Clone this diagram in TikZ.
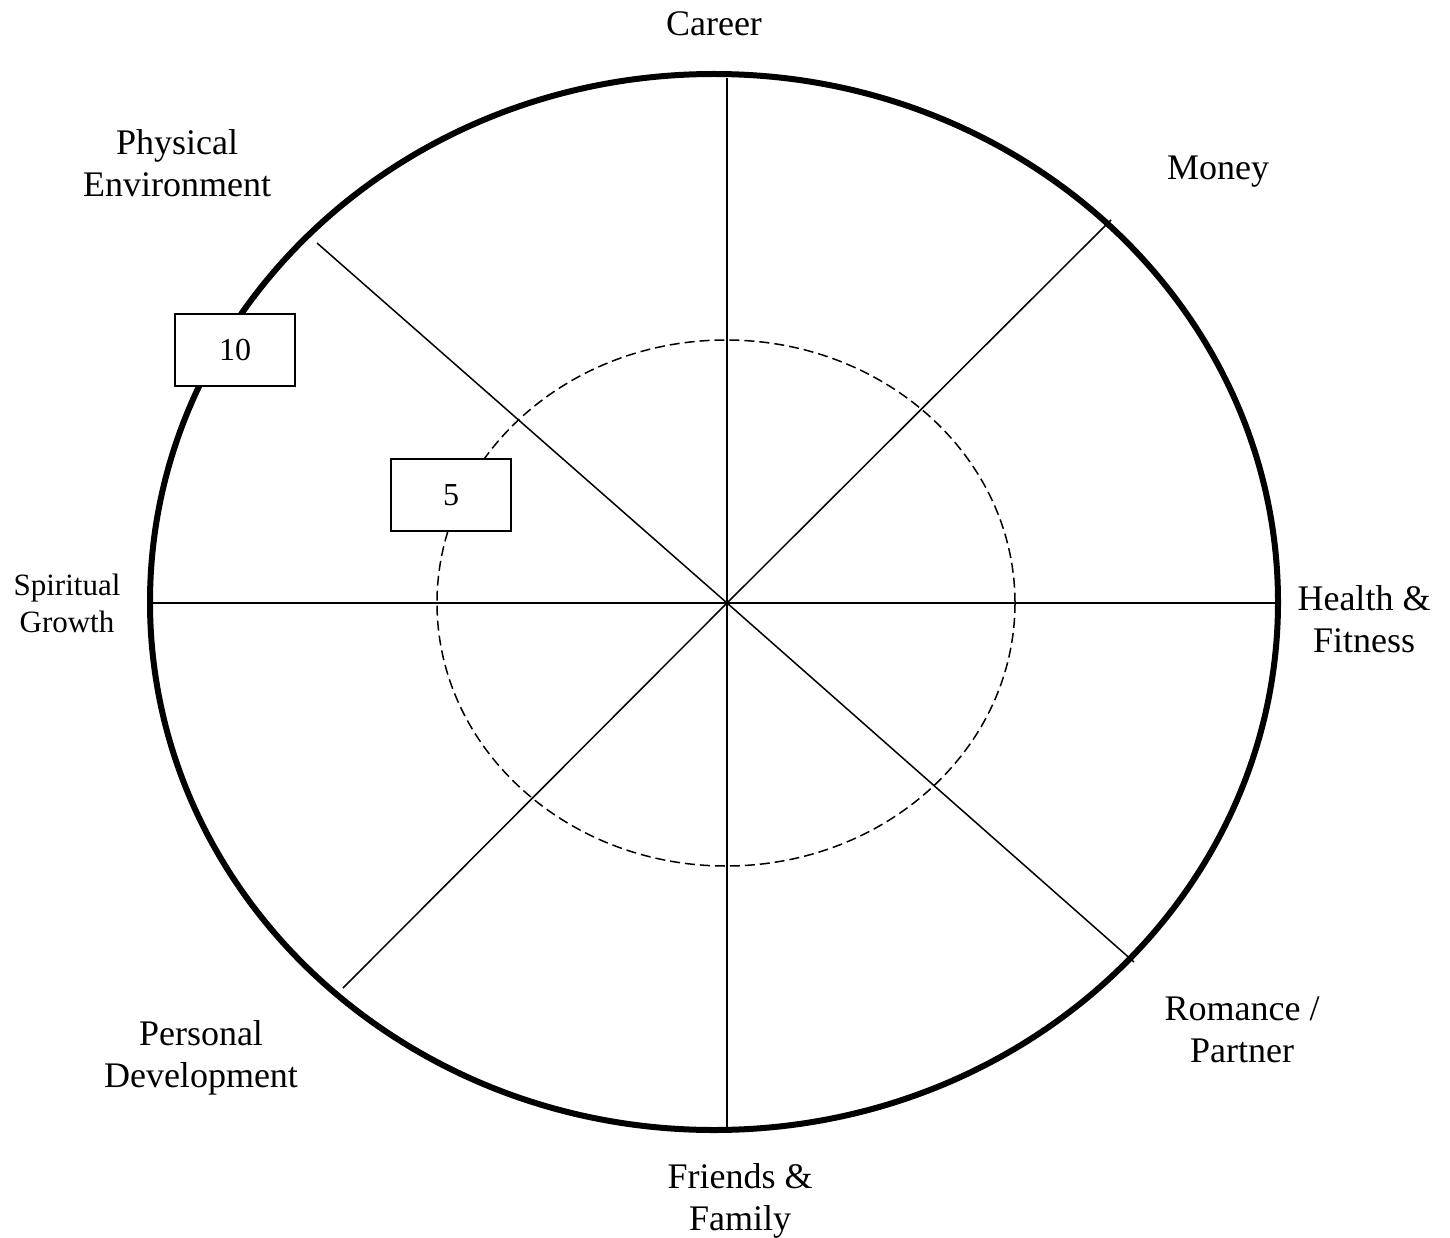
\documentclass[tikz,border=0pt]{standalone}
\usepackage{fontspec}
\setmainfont{Liberation Serif}
\begin{document}
\begin{tikzpicture}[x=1pt,y=-1pt,
  lbl/.style={font=\fontsize{36}{42}\selectfont, align=center, anchor=base, inner sep=0pt},
  lblsmall/.style={font=\fontsize{31}{37}\selectfont, align=center, anchor=base, inner sep=0pt},
  spoke/.style={line width=1.5pt},
  rim/.style={line width=6pt},
  halfring/.style={line width=1.5pt, dash pattern=on 10pt off 5pt},
  scorebox/.style={draw, line width=2pt, fill=white, minimum width=120pt, minimum height=72pt, inner sep=0pt, font=\fontsize{32}{36}\selectfont}]
\useasboundingbox (0,0) rectangle (1450,1238);
\coordinate (c) at (727,603);
\coordinate (n) at (727,78);
\coordinate (s) at (727,1127);
\coordinate (w) at (150,603);
\coordinate (e) at (1278,603);
\coordinate (nw) at (317,243);
\coordinate (ne) at (1111,220);
\coordinate (se) at (1134,962);
\coordinate (sw) at (343,988);
\draw[spoke] (n) -- (s);
\draw[spoke] (w) -- (e);
\draw[spoke] (nw) -- (c) -- (se);
\draw[spoke] (ne) -- (c) -- (sw);
\draw[halfring] (726,603) ellipse [x radius=289, y radius=263];
\draw[rim] (714,602) ellipse [x radius=564, y radius=528];
\node[scorebox] (ten) at (235,350) {10};
\node[scorebox] (five) at (451,495) {5};
\node[lbl] (career) at (714,36) {Career};
\node[lbl] (money) at (1218,180) {Money};
\node[lbl] (phys) at (177,197) {Physical\\Environment};
\node[lbl] (health) at (1364,652) {Health \&\\Fitness};
\node[lblsmall] (spirit) at (67,632) {Spiritual\\Growth};
\node[lbl] (romance) at (1242,1062) {Romance /\\Partner};
\node[lbl] (friends) at (740,1230) {Friends \&\\Family};
\node[lbl] (personal) at (201,1087) {Personal\\Development};
\end{tikzpicture}
\end{document}
